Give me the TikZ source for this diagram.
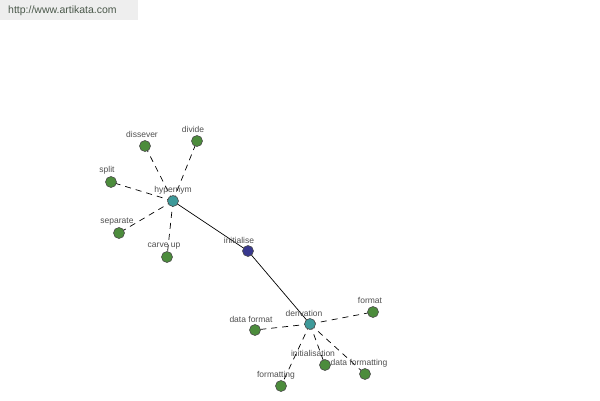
\documentclass[tikz,border=0pt]{standalone}
\usepackage{fontspec}
\setmainfont{Liberation Sans}
\definecolor{leafgreen}{HTML}{4C8C3C}
\definecolor{hubteal}{HTML}{3E9A9A}
\definecolor{midblue}{HTML}{38388E}
\definecolor{labgray}{HTML}{505050}
\definecolor{urlgray}{HTML}{4A584A}
\definecolor{bargray}{HTML}{EEEEEE}
\begin{document}
\begin{tikzpicture}[x=1pt,y=-1pt,
  dot/.style={circle,draw=black!70,line width=0.6pt,minimum size=11pt,inner sep=0pt},
  leaf/.style={dot,fill=leafgreen},
  hub/.style={dot,fill=hubteal},
  mid/.style={dot,fill=midblue},
  lab/.style={font=\fontsize{8.5}{9}\selectfont,text=labgray,inner sep=0pt},
  dashlink/.style={draw=black,line width=0.7pt,dash pattern=on 6pt off 5pt},
  solidlink/.style={draw=black,line width=0.7pt}]
\useasboundingbox (0,0) rectangle (600,400);
\fill[white] (0,0) rectangle (600,400);
\fill[bargray] (0,0) rectangle (138,20);
\node[font=\fontsize{10.5}{11}\selectfont,text=urlgray,anchor=west,inner sep=0pt] (url) at (8,11) {http://www.artikata.com};
% coordinates of nodes
\coordinate (pH) at (173,201);
\coordinate (pI) at (248,251);
\coordinate (pD) at (310,324);
% edges (behind)
\begin{scope}
\draw[dashlink] (pH) -- (145,146);
\draw[dashlink] (pH) -- (197,141);
\draw[dashlink] (pH) -- (111,182);
\draw[dashlink] (pH) -- (119,233);
\draw[dashlink] (pH) -- (167,257);
\draw[solidlink] (pH) -- (pI) -- (pD);
\draw[dashlink] (pD) -- (373,312);
\draw[dashlink] (pD) -- (255,330);
\draw[dashlink] (pD) -- (325,365);
\draw[dashlink] (pD) -- (365,374);
\draw[dashlink] (pD) -- (281,386);
\end{scope}
% nodes
\node[hub] (hyp) at (pH) {};
\node[mid] (ini) at (pI) {};
\node[hub] (der) at (pD) {};
\node[leaf] (diss) at (145,146) {};
\node[leaf] (divi) at (197,141) {};
\node[leaf] (spli) at (111,182) {};
\node[leaf] (sepa) at (119,233) {};
\node[leaf] (carv) at (167,257) {};
\node[leaf] (form) at (373,312) {};
\node[leaf] (dfor) at (255,330) {};
\node[leaf] (inis) at (325,365) {};
\node[leaf] (dfmt) at (365,374) {};
\node[leaf] (fmtg) at (281,386) {};
% labels
\node[lab] (lhyp) at (173,190) {hypernym};
\node[lab] (lini) at (239,240) {initialise};
\node[lab] (lder) at (304,313) {derivation};
\node[lab] (ldiss) at (142,134) {dissever};
\node[lab] (ldivi) at (193,129) {divide};
\node[lab] (lspli) at (107,170) {split};
\node[lab] (lsepa) at (117,222) {separate};
\node[lab] (lcarv) at (164,246) {carve up};
\node[lab] (lform) at (370,300) {format};
\node[lab] (ldfor) at (251,319) {data format};
\node[lab] (linis) at (313,353) {initialisation};
\node[lab] (ldfmt) at (359,363) {data formatting};
\node[lab] (lfmtg) at (276,375) {formatting};
\end{tikzpicture}
\end{document}
